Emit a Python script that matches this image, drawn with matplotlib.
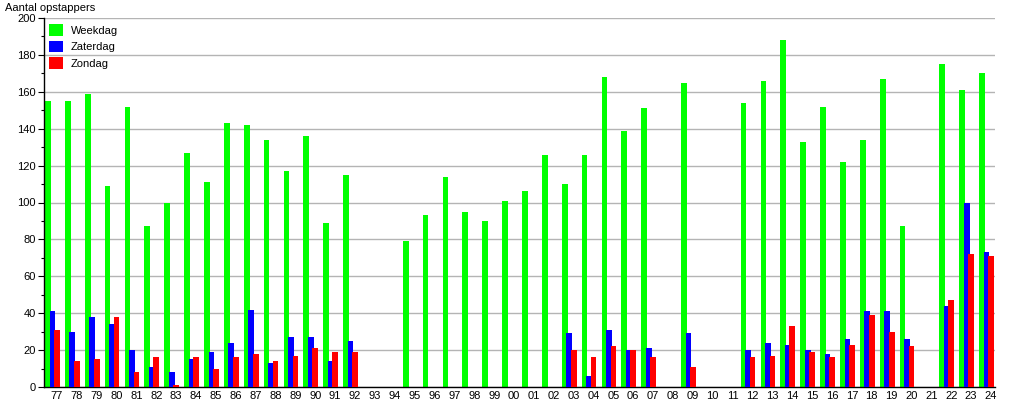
import matplotlib.pyplot as plt
import numpy as np

plt.rcParams['font.family'] = ['Liberation Sans', 'DejaVu Sans']

jaren = ['77', '78', '79', '80', '81', '82', '83', '84', '85', '86', '87', '88',
         '89', '90', '91', '92', '93', '94', '95', '96', '97', '98', '99', '00',
         '01', '02', '03', '04', '05', '06', '07', '08', '09', '10', '11', '12',
         '13', '14', '15', '16', '17', '18', '19', '20', '21', '22', '23', '24']

weekdag = [155, 155, 159, 109, 152, 87, 100, 127, 111, 143, 142, 134,
           117, 136, 89, 115, 0, 0, 79, 93, 114, 95, 90, 101,
           106, 126, 110, 126, 168, 139, 151, 0, 165, 0, 0, 154,
           166, 188, 133, 152, 122, 134, 167, 87, 0, 175, 161, 170]

zaterdag = [41, 30, 38, 34, 20, 11, 8, 15, 19, 24, 42, 13,
            27, 27, 14, 25, 0, 0, 0, 0, 0, 0, 0, 0,
            0, 0, 29, 6, 31, 20, 21, 0, 29, 0, 0, 20,
            24, 23, 20, 18, 26, 41, 41, 26, 0, 44, 100, 73]

zondag = [31, 14, 15, 38, 8, 16, 1, 16, 10, 16, 18, 14,
          17, 21, 19, 19, 0, 0, 0, 0, 0, 0, 0, 0,
          0, 0, 20, 16, 22, 20, 16, 0, 11, 0, 0, 16,
          17, 33, 19, 16, 23, 39, 30, 22, 0, 47, 72, 71]

fig = plt.figure(figsize=(10.15, 4.0), dpi=100)
ax = fig.add_axes([44 / 1015, 13 / 400, (995 - 44) / 1015, (387 - 18) / 400])

x = np.arange(len(jaren))
w = 0.29
ax.bar(x - 0.45, weekdag, w, color='#00ff00', label='Weekdag', zorder=2)
ax.bar(x - 0.225, zaterdag, w, color='#0000ff', label='Zaterdag', zorder=3)
ax.bar(x, zondag, w, color='#ff0000', label='Zondag', zorder=4)

ax.set_xlim(-0.65, 47.2)
ax.set_ylim(0, 200)
ax.set_xticks(x)
ax.set_xticklabels(jaren)
ax.set_yticks(np.arange(0, 201, 20))
ax.set_yticks(np.arange(0, 201, 10), minor=True)
ax.tick_params(axis='x', length=0, labelsize=8, pad=3)
ax.tick_params(axis='y', which='major', length=4, width=0.8, labelsize=8, pad=2)
ax.tick_params(axis='y', which='minor', length=2, width=0.8)

ax.grid(axis='y', which='major', color='#b4b4b4', linewidth=1, zorder=0)
ax.set_axisbelow(True)
for s in ['top', 'right']:
    ax.spines[s].set_visible(False)
for s in ['left', 'bottom']:
    ax.spines[s].set_linewidth(1)

fig.text(5 / 1015, 1 - 8 / 400, 'Aantal opstappers', fontsize=8, va='center', ha='left')

ax.legend(loc='upper left', bbox_to_anchor=(0.002, 0.993), frameon=False, fontsize=8,
          handlelength=1.25, handleheight=1.25, handletextpad=0.7, labelspacing=0.45,
          borderaxespad=0.0, borderpad=0.3)

fig.savefig('out.png', dpi=100)
plt.close(fig)
